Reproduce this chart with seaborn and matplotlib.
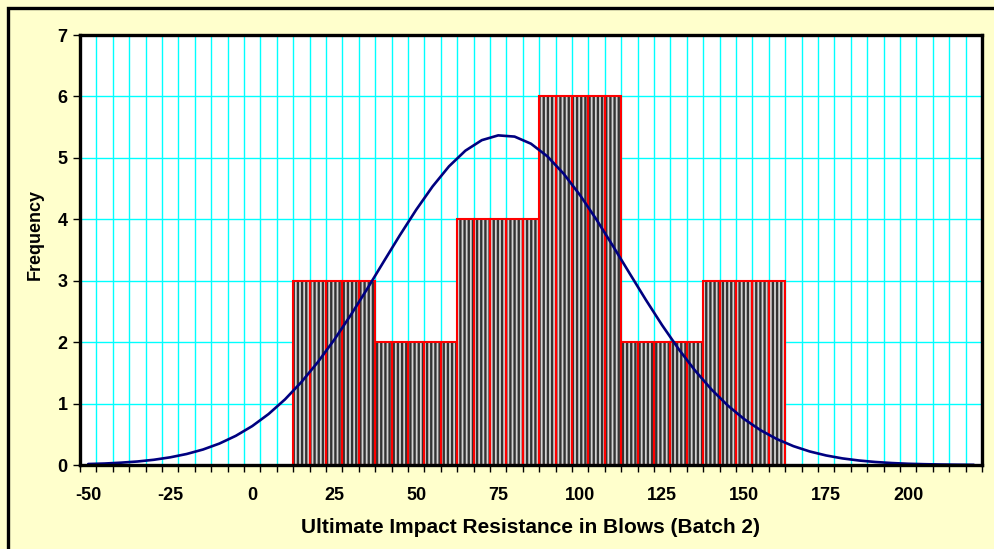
import numpy as np
import pandas as pd
import matplotlib
matplotlib.use("Agg")
import matplotlib.pyplot as plt
import seaborn as sns
from matplotlib.patches import Rectangle

# ---- data ----
bin_left = [12.5, 37.5, 62.5, 87.5, 112.5, 137.5]
bin_width = 25
bin_counts = [3, 2, 4, 6, 2, 3]

curve_x = list(range(-50, 225, 5))
curve_y = [0.016, 0.024, 0.038, 0.057, 0.085, 0.125, 0.179, 0.252, 0.349, 0.475,
           0.633, 0.830, 1.068, 1.350, 1.674, 2.038, 2.437, 2.862, 3.303, 3.739,
           4.155, 4.535, 4.862, 5.117, 5.288, 5.366, 5.346, 5.230, 5.024, 4.739,
           4.389, 3.992, 3.564, 3.125, 2.690, 2.274, 1.888, 1.539, 1.231, 0.968,
           0.747, 0.566, 0.421, 0.307, 0.220, 0.155, 0.107, 0.073, 0.049, 0.032,
           0.020, 0.013, 0.008, 0.005, 0.003]

x_tick_labels = [-50, -25, 0, 25, 50, 75, 100, 125, 150, 175, 200]
y_ticks = [0, 1, 2, 3, 4, 5, 6, 7]

# each histogram bin is drawn as columns of one category (5 units) each
sub_w = 5
sub_centers, sub_counts = [], []
for left, c in zip(bin_left, bin_counts):
    for k in range(bin_width // sub_w):
        sub_centers.append(left + sub_w * k + sub_w / 2)
        sub_counts.append(c)
df_bars = pd.DataFrame({"x": sub_centers, "w": sub_counts})
df_curve = pd.DataFrame({"x": curve_x, "y": curve_y})
brange = (bin_left[0], bin_left[-1] + bin_width)

# ---- style ----
sns.set_theme(style="white")
plt.rcParams["font.family"] = ["Liberation Sans", "DejaVu Sans"]
plt.rcParams["hatch.linewidth"] = 1.7
plt.rcParams["text.color"] = "black"
plt.rcParams["xtick.color"] = "black"
plt.rcParams["ytick.color"] = "black"
plt.rcParams["axes.labelcolor"] = "black"

W, H = 995, 549
fig = plt.figure(figsize=(W / 100, H / 100), dpi=100)
fig.patch.set_facecolor("#FFFFCC")
fig.patches.append(Rectangle((8 / W, -0.2), 1.2, 1.2 - 8 / H, transform=fig.transFigure,
                             fill=False, edgecolor="black", linewidth=2.4, zorder=10))

L, R, T, B = 80, 982, 35, 465
ax = fig.add_axes([L / W, 1 - B / H, (R - L) / W, (B - T) / H])
ax.set_facecolor("white")

# bars: hatched stripes + red outlines
sns.histplot(data=df_bars, x="x", weights="w", binwidth=sub_w, binrange=brange, ax=ax,
             stat="count", element="bars", fill=True, alpha=1, facecolor="#d4d4d4",
             edgecolor="#333333", linewidth=0, hatch="||||", zorder=2)
sns.histplot(data=df_bars, x="x", weights="w", binwidth=sub_w, binrange=brange, ax=ax,
             stat="count", element="bars", fill=False, color="#ff0000",
             linewidth=1.5, zorder=3)

sns.lineplot(data=df_curve, x="x", y="y", ax=ax, color="#000080", linewidth=1.9,
             zorder=4, legend=False)

ax.set_xlim(-52.5, 222.5)
ax.set_ylim(0, 7)

# grid / ticks
ax.set_xticks(np.arange(-52.5, 222.6, 5))
ax.set_xticklabels([])
ax.set_xticks(x_tick_labels, minor=True)
ax.set_xticklabels([str(v) for v in x_tick_labels], minor=True,
                   fontsize=13, fontweight="bold", color="black")
ax.tick_params(axis="x", which="major", length=5, width=1, color="black",
               direction="out", bottom=True)
ax.tick_params(axis="x", which="minor", length=0, pad=16)
ax.set_yticks(y_ticks)
ax.set_yticklabels([str(v) for v in y_ticks], fontsize=13, fontweight="bold",
                   color="black")
ax.tick_params(axis="y", length=5, width=1, color="black", direction="out",
               left=True, pad=4)
ax.grid(True, which="major", axis="both", color="#00FFFF", linewidth=1.0)
ax.set_axisbelow(True)
for s in ax.spines.values():
    s.set_visible(True)
    s.set_color("black")
    s.set_linewidth(2.4)
    s.set_zorder(5)

ax.set_xlabel("Ultimate Impact Resistance in Blows (Batch 2)", fontsize=15,
              fontweight="bold", color="black")
ax.set_ylabel("Frequency", fontsize=13, fontweight="bold", color="black")
ax.xaxis.set_label_coords(0.5, (B - 518) / (B - T))
ax.yaxis.set_label_coords((44 - L) / (R - L), (B - 234) / (B - T))

fig.savefig("out.png", dpi=100, facecolor=fig.get_facecolor())
